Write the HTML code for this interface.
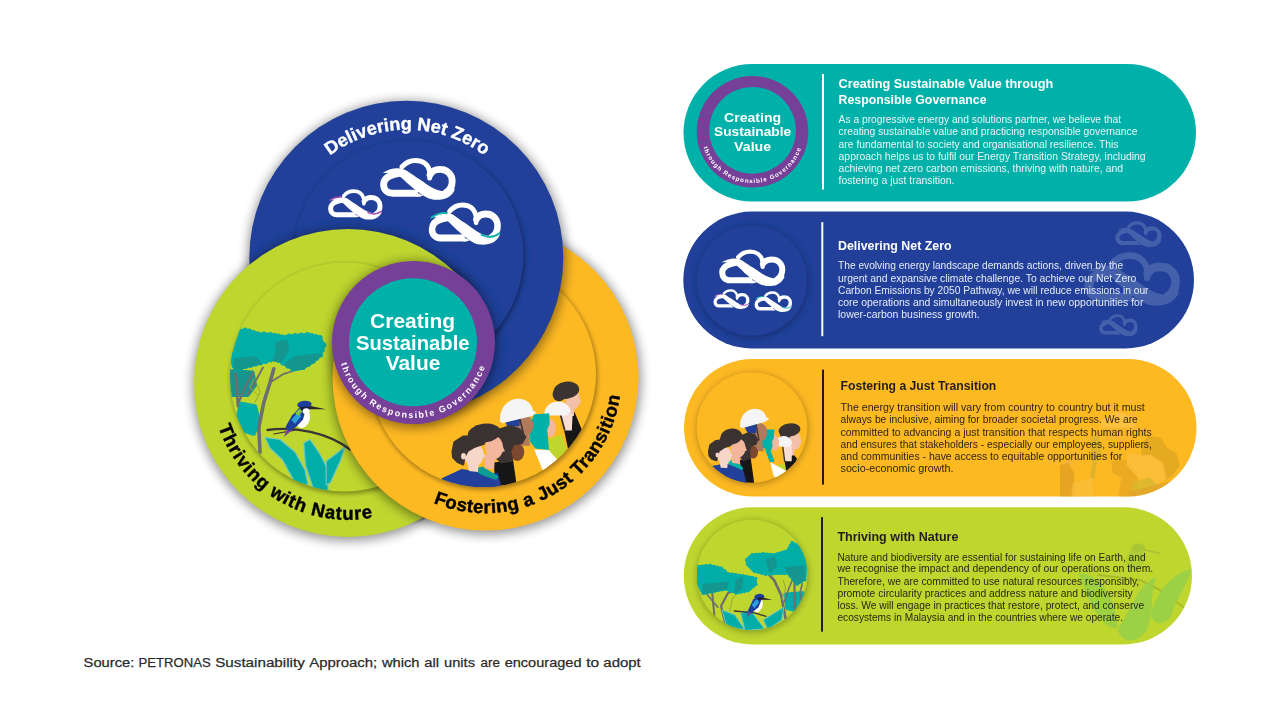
<!DOCTYPE html>
<html><head><meta charset="utf-8"><title>PETRONAS Sustainability Approach</title>
<style>
html,body{margin:0;padding:0;background:#fff;width:1280px;height:720px;overflow:hidden}
svg{display:block}
text{font-family:"Liberation Sans",sans-serif}
.b{font-weight:bold}
</style></head><body>
<svg width="1280" height="720" viewBox="0 0 1280 720">
<defs>
<filter id="bl4" x="-20%" y="-20%" width="140%" height="140%"><feGaussianBlur stdDeviation="5.5"/></filter>
<filter id="bl3" x="-20%" y="-20%" width="140%" height="140%"><feGaussianBlur stdDeviation="3"/></filter>
<filter id="bl2" x="-20%" y="-20%" width="140%" height="140%"><feGaussianBlur stdDeviation="2"/></filter>
<filter id="soft" x="-5%" y="-5%" width="110%" height="110%"><feGaussianBlur stdDeviation="0.7"/></filter>

<g id="cloud" stroke-linejoin="round">
<path d="M28,20.5 C24,21 22,21.5 19,22.3 C11,24.5 5,29 5,35.5 C5,42 9,47 17,47 L50,47" fill="none" stroke="currentColor" stroke-width="9" stroke-linecap="butt"/>
<path d="M29,12.5 C34,6.5 40,4 47,4 C56,4 63,9 65,17 C66,20 66,23 65.5,27" fill="none" stroke="currentColor" stroke-width="6.5" stroke-linecap="round"/>
<path d="M66,22.5 C69,17 74,15.5 80,15.8 C89,16 95,23 95,31 C95,38 92,43 87,46" fill="none" stroke="currentColor" stroke-width="9" stroke-linecap="round"/>
<polygon points="48,46 57,50 52.5,51.5 48,51.5" fill="currentColor"/>
<path d="M4,20 C11,16 18,14 24,14.3 C29,14.5 33,16 36,18 C42,22 46,25 51,28 C58,32.5 64,37.5 71,40.8 C77,43.6 82,44.6 87,44.2 C91,44 94,43 98,40 L98,43 C96,48 91,52 87,53.6 C82,55.5 77,56 71,55.6 C66,55 61,53 56,49.5 C50,45.5 44,41 38.5,36 C33.5,31.5 30,27.5 25.5,24.3 C22,21.5 19,20.8 15,20.6 C12,20.5 8,20.6 4,20 Z" fill="currentColor" stroke="none"/>
</g>
<g id="cloudAcc" fill="none" stroke-linecap="round">
<path d="M4,20.5 C11,16 18,14 25,14.8" stroke-width="2.6"/>
<path d="M73,43 C81,46.5 90,46.5 97.5,41" stroke-width="2.6"/>
</g>

<clipPath id="cB"><circle cx="406.3" cy="257.7" r="157"/></clipPath>
<clipPath id="cG"><circle cx="348" cy="383" r="154"/></clipPath>
<clipPath id="cY"><circle cx="485.5" cy="377.6" r="153"/></clipPath>
<clipPath id="cBi"><circle cx="408.5" cy="255.5" r="115"/></clipPath>
<clipPath id="cGi"><circle cx="344.5" cy="377" r="114.5"/></clipPath>
<clipPath id="cYi"><circle cx="483" cy="374.2" r="113"/></clipPath>
<clipPath id="cG1"><circle cx="348" cy="383" r="156.5"/></clipPath>
<clipPath id="cG2"><circle cx="348" cy="383" r="158.5"/></clipPath>
<clipPath id="cNotYlow"><path clip-rule="evenodd" d="M0,0H1280V720H0Z M360.06,290 A153,153 0 1 0 610.94,290 Z"/></clipPath>
<clipPath id="cLow"><rect x="0" y="290" width="1280" height="430"/></clipPath>
<clipPath id="cLowR"><rect x="413" y="290" width="867" height="430"/></clipPath>
<path id="tpB" d="M287.02,213.92 A128,128 0 0 1 527.58,213.92"/>
<path id="tpG" d="M219.45,336.21 A136.8,136.8 0 0 0 452.79,470.93"/>
<path id="tpY" d="M367.55,445.70 A136.2,136.2 0 0 0 603.45,309.50"/>
<path id="tpP" d="M342.46,316.64 A75.6,75.6 0 1 0 484.54,316.64"/>
</defs>
<defs>
<g id="dB">
<circle cx="406.3" cy="257.7" r="157" fill="#20419A"/>
<g clip-path="url(#cB)">
<circle cx="409.5" cy="257.5" r="115.8" fill="#000" opacity="0.34" filter="url(#bl2)"/>
<circle cx="408.5" cy="255.5" r="115" fill="#20419A"/>
</g>

<g color="#fff" transform="translate(379.8,157.4) scale(0.762)"><use href="#cloud"/></g>
<g color="#fff" transform="translate(327.8,188.9) scale(0.55)"><use href="#cloud"/><use href="#cloudAcc" stroke="#a04bb0"/></g>
<g color="#fff" transform="translate(428.4,201.8) scale(0.728,0.77)"><use href="#cloud"/><use href="#cloudAcc" stroke="#19b5ac"/></g>
<text class="b" font-size="18.2" fill="#fff" stroke="#fff" stroke-width="0.35" text-anchor="middle"><textPath href="#tpB" startOffset="50%" textLength="166" lengthAdjust="spacing">Delivering Net Zero</textPath></text>

</g>
<g id="dG">
<circle cx="348" cy="383" r="154" fill="#BED62F"/>
<g clip-path="url(#cG)">
<circle cx="345.5" cy="379" r="115.3" fill="#000" opacity="0.34" filter="url(#bl2)"/>
<circle cx="344.5" cy="377" r="114.5" fill="#BED62F"/>
</g>

<g clip-path="url(#cGi)" id="nature"><polygon points="230.0,371.2 252.5,372.5 255.0,385.0 247.5,395.0 232.5,395.0" fill="#12968f" stroke="#12968f" stroke-width="4" stroke-linejoin="round"/>
<polygon points="241.2,403.8 255.0,406.2 258.8,420.0 253.8,433.8 242.5,430.0 237.5,417.5" fill="#00ADA7" stroke="#00ADA7" stroke-width="4" stroke-linejoin="round"/>
<polyline points="260.0,452.5 258.8,427.5 263.8,402.5 270.0,382.5 273.8,368.8" fill="none" stroke="#6d6e70" stroke-width="3.6" stroke-linecap="round" stroke-linejoin="round" />
<polyline points="270.0,382.5 283.8,373.8 297.5,369.5" fill="none" stroke="#6d6e70" stroke-width="1.8" stroke-linecap="round" stroke-linejoin="round" />
<polyline points="238.0,406.2 236.5,382.5 235.0,370.0" fill="none" stroke="#6d6e70" stroke-width="2.8" stroke-linecap="round" stroke-linejoin="round" />
<polyline points="238.0,403.8 246.2,385.0 253.0,373.0" fill="none" stroke="#6d6e70" stroke-width="2.2" stroke-linecap="round" stroke-linejoin="round" />
<polyline points="247.5,395.0 257.5,377.5 263.0,367.5" fill="none" stroke="#6d6e70" stroke-width="1.8" stroke-linecap="round" stroke-linejoin="round" />
<polyline points="257.5,395.0 250.0,387.5 253.8,378.8" fill="none" stroke="#93a83a" stroke-width="1" stroke-linecap="round" stroke-linejoin="round" />
<polyline points="255.0,402.5 260.0,392.5 257.5,385.0" fill="none" stroke="#93a83a" stroke-width="1" stroke-linecap="round" stroke-linejoin="round" />
<polygon points="231.2,338.8 235.0,332.5 245.0,330.0 257.5,333.8 270.0,334.5 282.5,337.0 295.0,335.5 307.5,334.5 320.0,337.5 323.8,345.0 320.5,355.0 313.0,361.2 303.0,367.5 293.0,369.0 283.0,363.0 275.5,358.0 265.5,361.5 255.5,364.0 245.5,366.5 235.5,370.0 231.2,357.5" fill="#00ADA7" stroke="#00ADA7" stroke-width="3" stroke-linejoin="round"/>
<circle cx="231.2" cy="338.8" r="2.6" fill="#00ADA7"/><circle cx="235.0" cy="332.5" r="2.6" fill="#00ADA7"/><circle cx="240.0" cy="331.2" r="2.6" fill="#00ADA7"/><circle cx="245.0" cy="330.0" r="2.6" fill="#00ADA7"/><circle cx="249.2" cy="331.2" r="2.6" fill="#00ADA7"/><circle cx="253.3" cy="332.5" r="2.6" fill="#00ADA7"/><circle cx="257.5" cy="333.8" r="2.6" fill="#00ADA7"/><circle cx="263.8" cy="334.1" r="2.6" fill="#00ADA7"/><circle cx="270.0" cy="334.5" r="2.6" fill="#00ADA7"/><circle cx="274.2" cy="335.3" r="2.6" fill="#00ADA7"/><circle cx="278.3" cy="336.2" r="2.6" fill="#00ADA7"/><circle cx="282.5" cy="337.0" r="2.6" fill="#00ADA7"/><circle cx="288.8" cy="336.2" r="2.6" fill="#00ADA7"/><circle cx="295.0" cy="335.5" r="2.6" fill="#00ADA7"/><circle cx="301.2" cy="335.0" r="2.6" fill="#00ADA7"/><circle cx="307.5" cy="334.5" r="2.6" fill="#00ADA7"/><circle cx="311.7" cy="335.5" r="2.6" fill="#00ADA7"/><circle cx="315.8" cy="336.5" r="2.6" fill="#00ADA7"/><circle cx="320.0" cy="337.5" r="2.6" fill="#00ADA7"/><circle cx="323.8" cy="345.0" r="2.6" fill="#00ADA7"/><circle cx="322.1" cy="350.0" r="2.6" fill="#00ADA7"/><circle cx="320.5" cy="355.0" r="2.6" fill="#00ADA7"/><circle cx="316.8" cy="358.1" r="2.6" fill="#00ADA7"/><circle cx="313.0" cy="361.2" r="2.6" fill="#00ADA7"/><circle cx="308.0" cy="364.4" r="2.6" fill="#00ADA7"/><circle cx="303.0" cy="367.5" r="2.6" fill="#00ADA7"/><circle cx="298.0" cy="368.2" r="2.6" fill="#00ADA7"/><circle cx="293.0" cy="369.0" r="2.6" fill="#00ADA7"/><circle cx="288.0" cy="366.0" r="2.6" fill="#00ADA7"/><circle cx="283.0" cy="363.0" r="2.6" fill="#00ADA7"/><circle cx="279.2" cy="360.5" r="2.6" fill="#00ADA7"/><circle cx="275.5" cy="358.0" r="2.6" fill="#00ADA7"/><circle cx="270.5" cy="359.8" r="2.6" fill="#00ADA7"/><circle cx="265.5" cy="361.5" r="2.6" fill="#00ADA7"/><circle cx="260.5" cy="362.8" r="2.6" fill="#00ADA7"/><circle cx="255.5" cy="364.0" r="2.6" fill="#00ADA7"/><circle cx="250.5" cy="365.2" r="2.6" fill="#00ADA7"/><circle cx="245.5" cy="366.5" r="2.6" fill="#00ADA7"/><circle cx="240.5" cy="368.2" r="2.6" fill="#00ADA7"/><circle cx="235.5" cy="370.0" r="2.6" fill="#00ADA7"/><circle cx="234.1" cy="365.8" r="2.6" fill="#00ADA7"/><circle cx="232.7" cy="361.7" r="2.6" fill="#00ADA7"/><circle cx="231.2" cy="357.5" r="2.6" fill="#00ADA7"/><circle cx="231.2" cy="352.8" r="2.6" fill="#00ADA7"/><circle cx="231.2" cy="348.1" r="2.6" fill="#00ADA7"/><circle cx="231.2" cy="343.4" r="2.6" fill="#00ADA7"/>
<polygon points="276.2,343.8 286.2,341.2 287.5,350.0 281.2,361.2 273.8,360.0 277.5,351.2" fill="#12968f" stroke="#12968f" stroke-width="3" stroke-linejoin="round"/>
<polygon points="295.0,357.5 320.0,355.0 313.0,362.0 303.0,368.0 293.0,369.0 285.5,364.5" fill="#12968f" stroke="#12968f" stroke-width="3" stroke-linejoin="round"/>
<polygon points="235.0,360.0 255.0,357.5 260.0,363.0 245.0,367.0 235.5,370.0" fill="#12968f" stroke="#12968f" stroke-width="3" stroke-linejoin="round"/>
<polygon points="265.0,437.5 280.0,439.5 295.0,452.0 305.0,470.0 308.0,485.0 295.0,482.5 282.5,460.0 270.0,448.0" fill="#00ADA7" stroke="#6fc7bf" stroke-width="1.2" stroke-linejoin="round"/>
<polygon points="303.8,443.0 310.0,439.5 320.5,455.0 328.0,470.0 328.0,492.5 313.0,487.5 305.5,465.5" fill="#00ADA7" stroke="#6fc7bf" stroke-width="1.2" stroke-linejoin="round"/>
<polygon points="326.2,461.2 345.0,447.0 340.5,460.5 330.5,482.5 326.2,485.0" fill="#00ADA7" stroke="#6fc7bf" stroke-width="1.2" stroke-linejoin="round"/>
<path d="M267.5,430.0 C295.0,426.2 327.5,432.5 350.0,449.5" fill="none" stroke="#3a3436" stroke-width="2.4" stroke-linecap="round"/>
<polyline points="273.8,434.0 295.0,430.2" fill="none" stroke="#3a3436" stroke-width="1.2" stroke-linecap="round" stroke-linejoin="round" />
<polygon points="283.8,437.0 288.0,427.0 292.5,430.0" fill="#7a3fa0" />
<ellipse cx="303.0" cy="419.0" rx="6.6" ry="9.4" fill="#ffffff" transform="rotate(20 303.0 419.0)"/>
<polygon points="285.5,427.0 292.0,415.5 299.5,407.5 306.2,408.0 303.0,419.5 295.5,427.5 288.5,431.0" fill="#1f3c9c" />
<polygon points="291.2,420.0 298.8,411.2 301.2,416.2 295.0,423.8" fill="#2aa0dc" />
<polygon points="295.0,413.0 300.5,408.0 302.5,411.5 298.0,416.0" fill="#7fc241" />
<ellipse cx="304.5" cy="404.5" rx="7.2" ry="3.8" fill="#1f3c9c" transform="rotate(-5 304.5 404.5)"/>
<polygon points="299.5,407.0 310.5,406.5 310.0,409.5 301.2,410.5" fill="#1b1f3a" />
<polygon points="309.5,405.8 326.0,409.2 310.0,409.2" fill="#2b2b2b" />
<ellipse cx="306.2" cy="411.2" rx="3.5" ry="3.0" fill="#ffffff"/></g>
<text class="b" font-size="18.6" fill="#000" stroke="#000" stroke-width="0.4" text-anchor="middle"><textPath href="#tpG" startOffset="49.7%" textLength="195" lengthAdjust="spacing">Thriving with Nature</textPath></text>

</g>
<g id="dY">
<circle cx="485.5" cy="377.6" r="153" fill="#FDB924"/>
<g clip-path="url(#cY)">
<circle cx="484" cy="376.2" r="113.8" fill="#000" opacity="0.34" filter="url(#bl2)"/>
<circle cx="483" cy="374.2" r="113" fill="#FDB924"/>
</g>

<g clip-path="url(#cYi)" id="people"><polygon points="565.5,416.0 574.5,411.9 582.6,431.4 568.5,451.2 564.2,430.5" fill="#141214" />
<polygon points="566.4,405.2 574.5,405.2 573.9,416.0 567.3,416.0" fill="#f2c0a8" />
<ellipse cx="572.7" cy="399.8" rx="7.4" ry="9.8" fill="#f2c0a8"/>
<polygon points="579.0,397.1 581.5,402.1 578.6,403.2" fill="#f2c0a8" />
<ellipse cx="566.4" cy="390.2" rx="12.8" ry="8.6" fill="#3b3331" transform="rotate(-8 566.4 390.2)"/>
<ellipse cx="559.1" cy="394.4" rx="6.5" ry="7.0" fill="#3b3331"/>
<polygon points="560.6,414.2 572.7,413.3 571.8,430.5 564.5,430.5" fill="#f8ddd2" />
<polyline points="560.6,415.1 564.5,429.6" fill="none" stroke="#3b3331" stroke-width="1.8" stroke-linecap="round" stroke-linejoin="round" />
<path d="M544.3,413.3 C545.6,398.9 568.2,397.1 570.9,411.9 L566.4,415.5 L546.5,415.5 Z" fill="#f5f5f5"/>
<polygon points="547.9,439.5 561.3,434.6 566.7,449.4 559.1,460.3 549.7,452.1" fill="#BED62F" />
<ellipse cx="550.5" cy="428.1" rx="5.2" ry="9.2" fill="#f2b79d"/>
<polygon points="528.8,429.9 534.2,415.1 548.7,413.9 549.0,424.2 546.5,429.6 547.2,435.3 548.3,449.4 535.7,448.0 530.3,440.8" fill="#00B1A9" stroke="#00B1A9" stroke-width="1.2" stroke-linejoin="round"/>
<polygon points="534.2,449.4 548.7,450.1 557.7,460.3 543.2,471.4" fill="#ffffff" />
<polygon points="517.6,431.4 528.4,435.0 530.3,445.8 519.4,445.8" fill="#b17a5b" />
<ellipse cx="524.8" cy="425.6" rx="8.8" ry="10.0" fill="#b17a5b"/>
<polygon points="503.5,419.1 520.3,417.3 519.4,426.3 507.7,426.9" fill="#20419A" />
<polyline points="519.4,417.3 523.4,433.5" fill="none" stroke="#3b3331" stroke-width="1.6" stroke-linecap="round" stroke-linejoin="round" />
<path d="M499.9,420.9 C499.2,394.4 530.3,392.6 533.0,410.6 L536.6,412.4 L532.1,416.0 L502.3,423.2 Z" fill="#f5f5f5"/>
<polygon points="493.4,462.4 513.1,460.3 516.7,485.5 496.0,485.5" fill="#141214" />
<ellipse cx="517.3" cy="452.1" rx="7.0" ry="8.8" fill="#7b4a2e"/>
<polygon points="494.5,439.0 499.9,429.9 510.4,426.3 519.4,429.9 524.8,437.1 521.6,442.6 512.6,444.4 509.9,451.6 511.7,460.3 501.7,462.1 494.5,455.2 492.7,446.2" fill="#3b3331" stroke="#3b3331" stroke-width="3" stroke-linejoin="round"/>
<polygon points="473.4,473.8 497.8,472.9 501.4,487.3 474.3,487.3" fill="#2a3f9e" />
<polygon points="473.4,468.9 482.4,466.6 498.7,476.5 496.3,480.1 476.1,473.2" fill="#0d9b96" />
<polygon points="484.2,454.8 495.1,454.8 494.2,469.3 485.1,468.4" fill="#f2b79d" />
<ellipse cx="494.2" cy="447.6" rx="9.0" ry="11.6" fill="#f2b79d"/>
<polygon points="502.3,445.8 505.0,451.2 501.9,452.1" fill="#f2b79d" />
<ellipse cx="484.2" cy="433.2" rx="16.5" ry="9.5" fill="#3b3331" transform="rotate(-8 484.2 433.2)"/>
<ellipse cx="476.1" cy="438.6" rx="8.0" ry="8.0" fill="#3b3331"/>
<polygon points="441.8,478.3 461.7,468.9 475.2,471.1 500.5,486.4 441.8,489.1" fill="#20419A" />
<polygon points="467.1,462.1 478.8,462.1 477.9,472.0 468.9,471.1" fill="#f6d6c9" />
<ellipse cx="473.9" cy="454.8" rx="9.8" ry="11.6" fill="#f6d6c9"/>
<polygon points="482.6,451.2 485.1,456.6 482.2,457.7" fill="#f6d6c9" />
<polygon points="453.0,451.2 454.8,442.6 463.5,437.1 474.3,436.8 482.4,439.7 483.7,443.3 474.7,446.2 467.4,450.5 463.8,457.0 462.9,463.9 457.5,461.3 453.4,457.0" fill="#3b3331" stroke="#3b3331" stroke-width="3" stroke-linejoin="round"/>
<ellipse cx="463.5" cy="456.3" rx="2.4" ry="3.2" fill="#f6d6c9"/></g>
<text class="b" font-size="18.6" fill="#000" stroke="#000" stroke-width="0.4" text-anchor="middle"><textPath href="#tpY" startOffset="49.9%" textLength="248" lengthAdjust="spacing">Fostering a Just Transition</textPath></text>

</g>
</defs>
<g id="venn" filter="url(#soft)">
<circle cx="486.0" cy="379.6" r="155" fill="#000" opacity="0.42" filter="url(#bl4)"/>
<use href="#dY"/>
<circle cx="406.8" cy="259.7" r="159" fill="#000" opacity="0.42" filter="url(#bl4)"/>
<use href="#dB"/>
<g clip-path="url(#cNotYlow)"><circle cx="348.5" cy="385" r="156" fill="#000" opacity="0.42" filter="url(#bl4)"/></g>
<use href="#dG"/>
<g clip-path="url(#cG1)"><g clip-path="url(#cLow)"><g opacity="0.999"><circle cx="486.0" cy="379.6" r="155" fill="#000" opacity="0.42" filter="url(#bl4)"/><use href="#dY"/></g></g></g>
<g clip-path="url(#cG1)"><g clip-path="url(#cLowR)"><circle cx="406.8" cy="259.7" r="159" fill="#000" opacity="0.42" filter="url(#bl4)"/></g></g>
<g clip-path="url(#cG2)"><g clip-path="url(#cLowR)"><g opacity="0.999"><use href="#dB"/></g></g></g>
<circle cx="414.0" cy="344.5" r="83.5" fill="#000" opacity="0.4" filter="url(#bl4)"/>
<circle cx="413.5" cy="342.5" r="81.5" fill="#763F98"/>
<circle cx="413" cy="342.3" r="64" fill="#00B1A9"/>
<g class="b" fill="#fff" font-size="19.5" text-anchor="middle">
<text x="412.6" y="328.4" textLength="85" lengthAdjust="spacingAndGlyphs">Creating</text>
<text x="412.8" y="349.7" textLength="113.6" lengthAdjust="spacingAndGlyphs">Sustainable</text>
<text x="413" y="370.3" textLength="54.7" lengthAdjust="spacingAndGlyphs">Value</text>
</g>
<text class="b" font-size="9" fill="#fff" text-anchor="middle"><textPath href="#tpP" startOffset="49.4%" textLength="191" lengthAdjust="spacing">through Responsible Governance</textPath></text>

</g>
<g id="pills" filter="url(#soft)">
<clipPath id="cp0"><rect x="683.5" y="64" width="512.5" height="137.5" rx="68.75"/></clipPath>
<rect x="683.5" y="64" width="512.5" height="137.5" rx="68.75" fill="#00B1A9"/>
<g clip-path="url(#cp0)" id="wm0"></g>
<clipPath id="cp1"><rect x="683.3" y="211.6" width="510.7" height="136.8" rx="68.40"/></clipPath>
<rect x="683.3" y="211.6" width="510.7" height="136.8" rx="68.40" fill="#20419A"/>
<g clip-path="url(#cp1)" id="wm1"><g color="#fff" opacity="0.17"><g transform="translate(1115,221) scale(0.468)"><use href="#cloud"/></g><g transform="translate(1084,251.6) scale(0.964,0.97)"><use href="#cloud"/></g><g transform="translate(1099,314) scale(0.388,0.40)"><use href="#cloud"/></g></g></g>
<clipPath id="cp2"><rect x="684" y="359" width="512.5" height="137.6" rx="68.80"/></clipPath>
<rect x="684" y="359" width="512.5" height="137.6" rx="68.80" fill="#FDB924"/>
<g clip-path="url(#cp2)" id="wm2"><g opacity="0.62"><polygon points="1060.0,465.3 1068.3,462.5 1073.9,472.2 1075.3,500.0 1060.0,500.0" fill="#c98f1c" opacity="0.75"/><polygon points="1062.8,445.8 1075.3,444.4 1078.1,462.5 1076.7,477.8 1068.3,462.5 1061.4,458.3" fill="#f7b63a" opacity="0.6"/><polygon points="1072.5,483.3 1091.9,477.8 1093.3,500.0 1071.1,500.0" fill="#f9c34e" opacity="0.7"/><polygon points="1089.9,436.8 1098.9,435.8 1101.7,452.8 1096.4,465.3 1094.0,479.2 1089.9,477.8 1092.6,459.7" fill="#b9b03a" opacity="0.75"/><path d="M1100.3,427.8 C1100.3,408.3 1133.6,406.9 1135.7,427.8 Z" fill="#fdd679" opacity="0.55"/><polygon points="1101.7,427.8 1135.0,427.8 1132.2,441.7 1105.8,440.3" fill="#f3b23a" opacity="0.45"/><polygon points="1111.4,461.1 1126.7,459.7 1137.8,472.2 1137.8,500.0 1118.3,500.0 1121.1,477.8 1112.1,472.2" fill="#d79e22" opacity="0.8"/><polygon points="1141.9,445.8 1148.9,437.5 1160.0,438.9 1165.6,448.6 1175.3,454.2 1178.1,465.3 1171.1,475.0 1165.6,477.8 1162.8,462.5 1150.3,454.2 1143.3,455.6" fill="#d29c22" opacity="0.85" stroke="#d29c22" stroke-width="3" stroke-linejoin="round"/><polygon points="1126.7,452.8 1143.3,455.6 1150.3,454.2 1162.8,462.5 1166.9,477.8 1157.2,484.7 1137.8,477.8 1126.7,465.3" fill="#fbc04a" opacity="0.85"/><polygon points="1132.2,483.3 1148.9,477.1 1157.2,484.7 1143.3,491.7 1132.2,490.3" fill="#c4b63a" opacity="0.85"/><polygon points="1129.4,491.7 1157.2,484.7 1171.1,480.6 1157.2,500.0 1129.4,500.0" fill="#cf9a30" opacity="0.85"/></g></g>
<clipPath id="cp3"><rect x="683.8" y="507.2" width="508.2" height="137.2" rx="68.60"/></clipPath>
<rect x="683.8" y="507.2" width="508.2" height="137.2" rx="68.60" fill="#BED62F"/>
<g clip-path="url(#cp3)" id="wm3"><g opacity="0.8"><polyline points="1098.3,575.0 1140.0,580.0 1160.0,590.0 1183.3,607.0" fill="none" stroke="#a3b52c" stroke-width="2" stroke-linecap="round" stroke-linejoin="round"/><ellipse cx="1135.8" cy="558.3" rx="9" ry="13" fill="#a6c83a" opacity="0.8" transform="rotate(25 1135.8 558.3)"/><ellipse cx="1138.3" cy="547.5" rx="7" ry="4" fill="#a3c23a" opacity="0.9"/><polyline points="1143.3,549.7 1160.0,553.3" fill="none" stroke="#a8b43a" stroke-width="1.2"/><path d="M1078.3,573.0 C1098.3,573.3 1115.0,593.3 1117.5,628.3 C1101.7,630.0 1090.0,605.0 1078.3,573.0 Z" fill="#8fce4c" opacity="0.85"/><path d="M1155.8,577.0 C1138.3,585.0 1133.3,605.0 1117.5,630.0 C1123.3,645.0 1138.3,643.3 1146.7,630.0 C1153.3,616.7 1150.0,596.7 1155.8,577.0 Z" fill="#8fce4c" opacity="0.9"/><path d="M1191.7,568.7 C1173.3,573.3 1158.3,588.3 1150.8,613.3 C1153.3,626.7 1163.3,625.0 1170.8,616.7 C1176.7,596.7 1186.7,586.7 1191.7,568.7 Z" fill="#8fce4c" opacity="0.9"/></g></g>
<circle cx="752.5" cy="131.7" r="55.8" fill="#763F98"/><circle cx="752.6" cy="130.4" r="43.4" fill="#00B1A9"/>
<path id="tpP2" d="M704.01,113.85 A51.6,51.6 0 1 0 800.99,113.85" fill="none"/>
<g class="b" fill="#fff" font-size="13.5" text-anchor="middle">
<text x="752.6" y="121.5" textLength="57" lengthAdjust="spacingAndGlyphs">Creating</text>
<text x="752.6" y="136.3" textLength="77" lengthAdjust="spacingAndGlyphs">Sustainable</text>
<text x="752.6" y="151" textLength="37" lengthAdjust="spacingAndGlyphs">Value</text>
</g>
<text class="b" font-size="6.2" fill="#fff" text-anchor="middle"><textPath href="#tpP2" startOffset="49.6%" textLength="128" lengthAdjust="spacing">through Responsible Governance</textPath></text>

<clipPath id="ci0"><circle cx="752" cy="280.5" r="55.3"/></clipPath>
<circle cx="752.5" cy="282.0" r="56" fill="#000" opacity="0.27" filter="url(#bl3)"/>
<circle cx="752" cy="280.5" r="55.3" fill="#20419A"/>
<g clip-path="url(#ci0)" id="ill0"></g>
<clipPath id="ci1"><circle cx="752" cy="427.5" r="55.3"/></clipPath>
<circle cx="752.5" cy="429.0" r="56" fill="#000" opacity="0.27" filter="url(#bl3)"/>
<circle cx="752" cy="427.5" r="55.3" fill="#FDB924"/>
<g clip-path="url(#ci1)" id="ill1"><polygon points="784.5,454.7 792.0,452.2 797.0,458.8 794.0,468.8 785.3,471.0" fill="#141214" />
<polygon points="787.8,446.3 794.5,446.3 794.0,455.5 788.7,455.5" fill="#f2c0a8" />
<ellipse cx="794.5" cy="440.8" rx="6.6" ry="9.0" fill="#f2c0a8"/>
<polygon points="800.0,439.7 802.0,443.0 799.7,443.8" fill="#f2c0a8" />
<ellipse cx="789.5" cy="430.0" rx="11.0" ry="6.6" fill="#3b3331" transform="rotate(-8 789.5 430.0)"/>
<ellipse cx="785.3" cy="433.8" rx="5.5" ry="5.5" fill="#3b3331"/>
<polygon points="783.7,446.3 792.0,446.3 791.7,461.3 784.0,461.3" fill="#f8ddd2" />
<polyline points="782.8,447.2 784.7,461.3" fill="none" stroke="#3b3331" stroke-width="1.4" stroke-linecap="round" stroke-linejoin="round" />
<path d="M775.3,443.8 C776.2,433.8 790.3,433.0 792.3,443.8 L789.5,447.2 L777.0,446.3 Z" fill="#f5f5f5"/>
<polygon points="778.3,463.8 785.3,464.7 786.2,472.2 782.0,476.3 777.8,471.3" fill="#BED62F" />
<ellipse cx="774.8" cy="443.0" rx="4.3" ry="7.6" fill="#f2b79d"/>
<polygon points="759.5,440.0 765.3,430.0 774.0,430.0 773.3,438.0 771.7,441.3 772.0,446.3 770.3,451.3 774.0,461.3 770.0,461.7 765.3,448.3 760.3,446.3" fill="#00B1A9" stroke="#00B1A9" stroke-width="1" stroke-linejoin="round"/>
<polygon points="770.3,462.2 786.2,471.0 776.2,479.3 773.3,474.7" fill="#ffffff" />
<polygon points="754.0,438.0 762.0,441.3 763.7,451.3 755.3,451.3" fill="#b17a5b" />
<ellipse cx="760.0" cy="432.2" rx="7.2" ry="9.2" fill="#b17a5b"/>
<polygon points="743.7,425.5 757.0,423.8 756.2,433.3 747.8,433.3" fill="#20419A" />
<polyline points="756.3,425.5 759.0,440.0" fill="none" stroke="#3b3331" stroke-width="1.3" stroke-linecap="round" stroke-linejoin="round" />
<path d="M740.0,426.7 C739.5,405.5 763.7,403.8 766.2,417.2 L769.5,418.5 L765.3,421.7 L742.0,428.3 Z" fill="#f5f5f5"/>
<polygon points="740.0,460.0 750.7,458.0 754.3,483.8 741.7,483.8" fill="#141214" />
<ellipse cx="753.0" cy="452.2" rx="5.0" ry="6.4" fill="#7b4a2e"/>
<polygon points="739.8,441.3 742.3,435.8 748.7,433.3 754.5,435.0 757.3,440.0 755.7,444.0 750.7,445.7 749.0,451.3 749.8,458.0 743.2,460.2 739.8,454.7 739.0,448.0" fill="#3b3331" stroke="#3b3331" stroke-width="2" stroke-linejoin="round"/>
<polygon points="723.7,466.3 742.0,465.5 747.0,484.7 725.3,484.7" fill="#20419A" />
<polygon points="727.5,461.7 733.7,459.3 743.3,468.0 741.3,471.0 729.5,465.0" fill="#00B1A9" />
<polygon points="731.2,454.7 739.5,454.7 739.0,463.8 732.0,463.0" fill="#f2b79d" />
<ellipse cx="738.2" cy="448.0" rx="7.4" ry="9.6" fill="#f2b79d"/>
<polygon points="745.0,446.3 747.0,450.5 744.7,451.0" fill="#f2b79d" />
<ellipse cx="731.2" cy="436.7" rx="11.0" ry="8.0" fill="#3b3331" transform="rotate(-10 731.2 436.7)"/>
<ellipse cx="725.3" cy="441.3" rx="6.0" ry="6.0" fill="#3b3331"/>
<polygon points="710.3,466.3 726.2,463.3 742.8,470.5 747.0,484.7 708.7,484.7" fill="#20419A" />
<polygon points="719.5,461.3 727.8,461.3 727.3,468.0 720.7,467.7" fill="#f6d6c9" />
<ellipse cx="724.5" cy="455.5" rx="7.0" ry="8.8" fill="#f6d6c9"/>
<polygon points="730.7,452.2 732.7,456.0 730.3,456.7" fill="#f6d6c9" />
<polygon points="709.0,451.3 710.3,445.0 715.7,441.0 723.0,440.3 729.3,442.3 730.7,445.0 724.0,447.3 719.0,450.7 717.0,455.5 716.5,460.2 712.0,458.8 709.3,455.5" fill="#3b3331" stroke="#3b3331" stroke-width="2" stroke-linejoin="round"/>
<ellipse cx="717.3" cy="455.0" rx="1.8" ry="2.4" fill="#f6d6c9"/></g>
<clipPath id="ci2"><circle cx="752" cy="575" r="55.3"/></clipPath>
<circle cx="752.5" cy="576.5" r="56" fill="#000" opacity="0.27" filter="url(#bl3)"/>
<circle cx="752" cy="575" r="55.3" fill="#BED62F"/>
<g clip-path="url(#ci2)" id="ill2"><polygon points="785.6,593.9 803.3,592.8 805.6,606.1 796.7,611.0 786.7,608.3" fill="#00ADA7" stroke="#00ADA7" stroke-width="3" stroke-linejoin="round"/>
<polyline points="786.0,620.6 781.1,595.0 774.4,580.6 767.8,573.2" fill="none" stroke="#6d6e70" stroke-width="2.6" stroke-linecap="round" stroke-linejoin="round" />
<polyline points="794.9,609.4 794.4,583.9 799.3,572.8" fill="none" stroke="#6d6e70" stroke-width="2.2" stroke-linecap="round" stroke-linejoin="round" />
<polyline points="784.4,601.7 788.9,588.3 792.7,579.4" fill="none" stroke="#6d6e70" stroke-width="1.6" stroke-linecap="round" stroke-linejoin="round" />
<polyline points="802.2,583.9 800.0,592.8 801.1,599.4" fill="none" stroke="#6d6e70" stroke-width="1.6" stroke-linecap="round" stroke-linejoin="round" />
<polyline points="724.9,622.8 721.1,606.1 727.8,593.2 739.3,588.3" fill="none" stroke="#6d6e70" stroke-width="2.2" stroke-linecap="round" stroke-linejoin="round" />
<polyline points="714.4,616.1 712.2,592.8" fill="none" stroke="#6d6e70" stroke-width="2" stroke-linecap="round" stroke-linejoin="round" />
<polyline points="717.8,607.2 705.6,592.8" fill="none" stroke="#6d6e70" stroke-width="1.6" stroke-linecap="round" stroke-linejoin="round" />
<polyline points="730.0,610.6 732.2,599.4 736.7,592.8" fill="none" stroke="#93a83a" stroke-width="1" stroke-linecap="round" stroke-linejoin="round" />
<polyline points="782.2,599.4 785.6,588.3 783.3,580.6" fill="none" stroke="#93a83a" stroke-width="1" stroke-linecap="round" stroke-linejoin="round" />
<polygon points="698.4,566.6 710.0,565.7 721.1,568.3 728.2,573.9 743.3,576.1 755.6,578.6 755.6,584.3 747.8,590.6 736.7,592.8 725.6,588.8 714.4,591.0 703.3,593.2 698.4,584.3" fill="#00ADA7" stroke="#00ADA7" stroke-width="2.5" stroke-linejoin="round"/>
<circle cx="698.4" cy="566.6" r="1.9" fill="#00ADA7"/><circle cx="702.3" cy="566.3" r="1.9" fill="#00ADA7"/><circle cx="706.1" cy="566.0" r="1.9" fill="#00ADA7"/><circle cx="710.0" cy="565.7" r="1.9" fill="#00ADA7"/><circle cx="713.7" cy="566.6" r="1.9" fill="#00ADA7"/><circle cx="717.4" cy="567.4" r="1.9" fill="#00ADA7"/><circle cx="721.1" cy="568.3" r="1.9" fill="#00ADA7"/><circle cx="724.7" cy="571.1" r="1.9" fill="#00ADA7"/><circle cx="728.2" cy="573.9" r="1.9" fill="#00ADA7"/><circle cx="732.0" cy="574.4" r="1.9" fill="#00ADA7"/><circle cx="735.8" cy="575.0" r="1.9" fill="#00ADA7"/><circle cx="739.6" cy="575.6" r="1.9" fill="#00ADA7"/><circle cx="743.3" cy="576.1" r="1.9" fill="#00ADA7"/><circle cx="746.4" cy="576.7" r="1.9" fill="#00ADA7"/><circle cx="749.4" cy="577.3" r="1.9" fill="#00ADA7"/><circle cx="752.5" cy="577.9" r="1.9" fill="#00ADA7"/><circle cx="755.6" cy="578.6" r="1.9" fill="#00ADA7"/><circle cx="755.6" cy="584.3" r="1.9" fill="#00ADA7"/><circle cx="753.0" cy="586.4" r="1.9" fill="#00ADA7"/><circle cx="750.4" cy="588.5" r="1.9" fill="#00ADA7"/><circle cx="747.8" cy="590.6" r="1.9" fill="#00ADA7"/><circle cx="744.1" cy="591.3" r="1.9" fill="#00ADA7"/><circle cx="740.4" cy="592.0" r="1.9" fill="#00ADA7"/><circle cx="736.7" cy="592.8" r="1.9" fill="#00ADA7"/><circle cx="733.0" cy="591.4" r="1.9" fill="#00ADA7"/><circle cx="729.3" cy="590.1" r="1.9" fill="#00ADA7"/><circle cx="725.6" cy="588.8" r="1.9" fill="#00ADA7"/><circle cx="721.9" cy="589.5" r="1.9" fill="#00ADA7"/><circle cx="718.1" cy="590.3" r="1.9" fill="#00ADA7"/><circle cx="714.4" cy="591.0" r="1.9" fill="#00ADA7"/><circle cx="710.7" cy="591.7" r="1.9" fill="#00ADA7"/><circle cx="707.0" cy="592.5" r="1.9" fill="#00ADA7"/><circle cx="703.3" cy="593.2" r="1.9" fill="#00ADA7"/><circle cx="701.7" cy="590.3" r="1.9" fill="#00ADA7"/><circle cx="700.1" cy="587.3" r="1.9" fill="#00ADA7"/><circle cx="698.4" cy="584.3" r="1.9" fill="#00ADA7"/><circle cx="698.4" cy="580.8" r="1.9" fill="#00ADA7"/><circle cx="698.4" cy="577.2" r="1.9" fill="#00ADA7"/><circle cx="698.4" cy="573.7" r="1.9" fill="#00ADA7"/><circle cx="698.4" cy="570.1" r="1.9" fill="#00ADA7"/>
<polygon points="736.7,580.6 742.2,577.7 741.1,588.3 735.6,592.3" fill="#12968f" stroke="#12968f" stroke-width="2" stroke-linejoin="round"/>
<polygon points="703.3,585.0 727.8,582.8 725.6,588.8 714.4,591.0 703.3,593.2" fill="#12968f" stroke="#12968f" stroke-width="2" stroke-linejoin="round"/>
<polygon points="746.7,559.9 752.2,555.0 763.3,553.9 774.4,555.0 787.8,551.0 792.2,542.8 801.6,548.3 806.0,561.7 804.7,579.4 797.1,583.9 788.2,573.2 776.7,573.2 765.6,574.1 754.4,571.0 747.8,564.3" fill="#00ADA7" stroke="#00ADA7" stroke-width="2.5" stroke-linejoin="round"/>
<circle cx="746.7" cy="559.9" r="1.9" fill="#00ADA7"/><circle cx="749.4" cy="557.4" r="1.9" fill="#00ADA7"/><circle cx="752.2" cy="555.0" r="1.9" fill="#00ADA7"/><circle cx="755.9" cy="554.6" r="1.9" fill="#00ADA7"/><circle cx="759.6" cy="554.3" r="1.9" fill="#00ADA7"/><circle cx="763.3" cy="553.9" r="1.9" fill="#00ADA7"/><circle cx="767.0" cy="554.3" r="1.9" fill="#00ADA7"/><circle cx="770.7" cy="554.6" r="1.9" fill="#00ADA7"/><circle cx="774.4" cy="555.0" r="1.9" fill="#00ADA7"/><circle cx="777.8" cy="554.0" r="1.9" fill="#00ADA7"/><circle cx="781.1" cy="553.0" r="1.9" fill="#00ADA7"/><circle cx="784.4" cy="552.0" r="1.9" fill="#00ADA7"/><circle cx="787.8" cy="551.0" r="1.9" fill="#00ADA7"/><circle cx="789.3" cy="548.3" r="1.9" fill="#00ADA7"/><circle cx="790.7" cy="545.5" r="1.9" fill="#00ADA7"/><circle cx="792.2" cy="542.8" r="1.9" fill="#00ADA7"/><circle cx="795.3" cy="544.6" r="1.9" fill="#00ADA7"/><circle cx="798.4" cy="546.5" r="1.9" fill="#00ADA7"/><circle cx="801.6" cy="548.3" r="1.9" fill="#00ADA7"/><circle cx="802.7" cy="551.7" r="1.9" fill="#00ADA7"/><circle cx="803.8" cy="555.0" r="1.9" fill="#00ADA7"/><circle cx="804.9" cy="558.3" r="1.9" fill="#00ADA7"/><circle cx="806.0" cy="561.7" r="1.9" fill="#00ADA7"/><circle cx="805.7" cy="565.2" r="1.9" fill="#00ADA7"/><circle cx="805.5" cy="568.8" r="1.9" fill="#00ADA7"/><circle cx="805.2" cy="572.3" r="1.9" fill="#00ADA7"/><circle cx="804.9" cy="575.9" r="1.9" fill="#00ADA7"/><circle cx="804.7" cy="579.4" r="1.9" fill="#00ADA7"/><circle cx="800.9" cy="581.7" r="1.9" fill="#00ADA7"/><circle cx="797.1" cy="583.9" r="1.9" fill="#00ADA7"/><circle cx="794.9" cy="581.2" r="1.9" fill="#00ADA7"/><circle cx="792.7" cy="578.6" r="1.9" fill="#00ADA7"/><circle cx="790.4" cy="575.9" r="1.9" fill="#00ADA7"/><circle cx="788.2" cy="573.2" r="1.9" fill="#00ADA7"/><circle cx="784.4" cy="573.2" r="1.9" fill="#00ADA7"/><circle cx="780.5" cy="573.2" r="1.9" fill="#00ADA7"/><circle cx="776.7" cy="573.2" r="1.9" fill="#00ADA7"/><circle cx="773.0" cy="573.5" r="1.9" fill="#00ADA7"/><circle cx="769.3" cy="573.8" r="1.9" fill="#00ADA7"/><circle cx="765.6" cy="574.1" r="1.9" fill="#00ADA7"/><circle cx="761.9" cy="573.1" r="1.9" fill="#00ADA7"/><circle cx="758.1" cy="572.0" r="1.9" fill="#00ADA7"/><circle cx="754.4" cy="571.0" r="1.9" fill="#00ADA7"/><circle cx="752.2" cy="568.8" r="1.9" fill="#00ADA7"/><circle cx="750.0" cy="566.6" r="1.9" fill="#00ADA7"/><circle cx="747.8" cy="564.3" r="1.9" fill="#00ADA7"/>
<polygon points="766.7,559.4 774.4,557.2 776.2,566.1 770.0,571.7" fill="#12968f" stroke="#12968f" stroke-width="2" stroke-linejoin="round"/>
<polygon points="785.6,568.3 803.3,566.1 804.7,579.4 797.1,583.9 790.0,575.0" fill="#12968f" stroke="#12968f" stroke-width="2" stroke-linejoin="round"/>
<polygon points="722.2,610.1 734.9,615.0 744.4,629.4 726.7,627.2" fill="#00ADA7" stroke="#6fc7bf" stroke-width="1" stroke-linejoin="round"/>
<polygon points="740.7,613.2 750.4,610.1 764.4,628.8 745.1,630.6" fill="#00ADA7" stroke="#6fc7bf" stroke-width="1" stroke-linejoin="round"/>
<polygon points="763.3,619.9 783.8,607.2 781.6,619.9 767.8,629.4" fill="#00ADA7" stroke="#6fc7bf" stroke-width="1" stroke-linejoin="round"/>
<polyline points="734.4,611.0 754.4,612.8 766.0,616.3" fill="none" stroke="#3a3436" stroke-width="1.3" stroke-linecap="round" stroke-linejoin="round" />
<polygon points="746.2,617.7 749.1,610.1 752.2,612.3" fill="#7a3fa0" />
<ellipse cx="758.0" cy="605.4" rx="4.6" ry="7.0" fill="#ffffff" transform="rotate(20 758.0 605.4)"/>
<polygon points="747.8,611.0 753.1,599.4 758.4,595.4 762.4,597.7 758.4,607.2 751.3,613.2" fill="#1f3c9c" />
<polygon points="751.8,605.0 757.1,598.3 758.9,602.8 754.4,608.3" fill="#2aa0dc" />
<ellipse cx="759.3" cy="596.8" rx="5.0" ry="3.0" fill="#1f3c9c" transform="rotate(-5 759.3 596.8)"/>
<polygon points="757.1,597.7 763.3,597.2 762.9,599.4 758.0,599.9" fill="#1b1f3a" />
<polygon points="762.2,597.2 772.2,599.9 762.4,599.7" fill="#2b2b2b" /></g>
<g color="#fff" transform="translate(718.9,248.9) scale(0.667)"><use href="#cloud"/></g>
<g color="#fff" transform="translate(713.3,288.9) scale(0.363)"><use href="#cloud"/><use href="#cloudAcc" stroke="#a04bb0"/></g>
<g color="#fff" transform="translate(754.4,291) scale(0.378)"><use href="#cloud"/><use href="#cloudAcc" stroke="#19b5ac"/></g>
<rect x="822" y="74" width="2" height="115.5" fill="#fff"/>
<rect x="821.3" y="222.2" width="2" height="114" fill="#fff"/>
<rect x="822" y="369.6" width="2" height="115" fill="#231F20"/>
<rect x="821" y="517.2" width="2" height="114.5" fill="#231F20"/>
<text x="838.6" y="88.1" font-size="12.4" fill="#fff" class="b" textLength="214.8" lengthAdjust="spacingAndGlyphs">Creating Sustainable Value through</text>
<text x="838.6" y="103.6" font-size="12.4" fill="#fff" class="b" textLength="147.9" lengthAdjust="spacingAndGlyphs">Responsible Governance</text>
<text x="838.6" y="123" font-size="10.4" fill="#e9f7f6"  textLength="282.4" lengthAdjust="spacingAndGlyphs">As a progressive energy and solutions partner, we believe that</text>
<text x="838.6" y="135.4" font-size="10.4" fill="#e9f7f6"  textLength="298.9" lengthAdjust="spacingAndGlyphs">creating sustainable value and practicing responsible governance</text>
<text x="838.6" y="147.5" font-size="10.4" fill="#e9f7f6"  textLength="279.9" lengthAdjust="spacingAndGlyphs">are fundamental to society and organisational resilience. This</text>
<text x="838.6" y="159.8" font-size="10.4" fill="#e9f7f6"  textLength="307.0" lengthAdjust="spacingAndGlyphs">approach helps us to fulfil our Energy Transition Strategy, including</text>
<text x="838.6" y="171.9" font-size="10.4" fill="#e9f7f6"  textLength="284.4" lengthAdjust="spacingAndGlyphs">achieving net zero carbon emissions, thriving with nature, and</text>
<text x="838.6" y="184.3" font-size="10.4" fill="#e9f7f6"  textLength="115.9" lengthAdjust="spacingAndGlyphs">fostering a just transition.</text>
<text x="838" y="249.5" font-size="12.4" fill="#fff" class="b" textLength="113.6" lengthAdjust="spacingAndGlyphs">Delivering Net Zero</text>
<text x="838" y="269.2" font-size="10.4" fill="#e6eaf5"  textLength="285.1" lengthAdjust="spacingAndGlyphs">The evolving energy landscape demands actions, driven by the</text>
<text x="838" y="281.6" font-size="10.4" fill="#e6eaf5"  textLength="298.4" lengthAdjust="spacingAndGlyphs">urgent and expansive climate challenge. To achieve our  Net Zero</text>
<text x="838" y="293.7" font-size="10.4" fill="#e6eaf5"  textLength="310.5" lengthAdjust="spacingAndGlyphs">Carbon Emissions by 2050 Pathway, we will reduce emissions in our</text>
<text x="838" y="306" font-size="10.4" fill="#e6eaf5"  textLength="305.4" lengthAdjust="spacingAndGlyphs">core operations and simultaneously invest in new opportunities for</text>
<text x="838" y="318.1" font-size="10.4" fill="#e6eaf5"  textLength="141.7" lengthAdjust="spacingAndGlyphs">lower-carbon business growth.</text>
<text x="840.5" y="390.3" font-size="12.4" fill="#231F20" class="b" textLength="155.8" lengthAdjust="spacingAndGlyphs">Fostering a Just Transition</text>
<text x="840.5" y="411.1" font-size="10.4" fill="#2e2512"  textLength="304.3" lengthAdjust="spacingAndGlyphs">The energy transition will vary from country to country but it must</text>
<text x="840.5" y="423.2" font-size="10.4" fill="#2e2512"  textLength="297.3" lengthAdjust="spacingAndGlyphs">always be inclusive, aiming  for broader societal progress. We are</text>
<text x="840.5" y="435.6" font-size="10.4" fill="#2e2512"  textLength="311.3" lengthAdjust="spacingAndGlyphs">committed to advancing a just transition that respects human rights</text>
<text x="840.5" y="448" font-size="10.4" fill="#2e2512"  textLength="311.3" lengthAdjust="spacingAndGlyphs">and ensures that stakeholders - especially our employees, suppliers,</text>
<text x="840.5" y="460" font-size="10.4" fill="#2e2512"  textLength="281.8" lengthAdjust="spacingAndGlyphs">and communities - have access to equitable opportunities for</text>
<text x="840.5" y="472.4" font-size="10.4" fill="#2e2512"  textLength="113.1" lengthAdjust="spacingAndGlyphs">socio-economic growth.</text>
<text x="837.4" y="540.9" font-size="12.4" fill="#231F20" class="b" textLength="121.0" lengthAdjust="spacingAndGlyphs">Thriving with Nature</text>
<text x="837.4" y="560.6" font-size="10.4" fill="#262a10"  textLength="308.2" lengthAdjust="spacingAndGlyphs">Nature and biodiversity are essential for sustaining life on Earth, and</text>
<text x="837.4" y="572.4" font-size="10.4" fill="#262a10"  textLength="315.8" lengthAdjust="spacingAndGlyphs">we recognise the impact and dependency of our operations on them.</text>
<text x="837.4" y="585" font-size="10.4" fill="#262a10"  textLength="301.8" lengthAdjust="spacingAndGlyphs">Therefore, we are committed to use natural resources responsibly,</text>
<text x="837.4" y="597.1" font-size="10.4" fill="#262a10"  textLength="295.3" lengthAdjust="spacingAndGlyphs">promote circularity practices and address nature and biodiversity</text>
<text x="837.4" y="609.2" font-size="10.4" fill="#262a10"  textLength="306.8" lengthAdjust="spacingAndGlyphs">loss. We will engage in practices that restore, protect, and conserve</text>
<text x="837.4" y="621.3" font-size="10.4" fill="#262a10"  textLength="285.7" lengthAdjust="spacingAndGlyphs">ecosystems in Malaysia and in the countries where we operate.</text>
</g>
<g font-size="13.7" fill="#2a2a2a" stroke="#2a2a2a" stroke-width="0.25">
<text x="83.6" y="666.8" textLength="50.8" lengthAdjust="spacingAndGlyphs">Source:</text>
<text x="138.6" y="666.8" textLength="72.1" lengthAdjust="spacingAndGlyphs">PETRONAS</text>
<text x="215.2" y="666.8" textLength="89.6" lengthAdjust="spacingAndGlyphs">Sustainability</text>
<text x="309.2" y="666.8" textLength="68.0" lengthAdjust="spacingAndGlyphs">Approach;</text>
<text x="381.9" y="666.8" textLength="37.6" lengthAdjust="spacingAndGlyphs">which</text>
<text x="424.3" y="666.8" textLength="14.8" lengthAdjust="spacingAndGlyphs">all</text>
<text x="444" y="666.8" textLength="31.0" lengthAdjust="spacingAndGlyphs">units</text>
<text x="480.5" y="666.8" textLength="19.4" lengthAdjust="spacingAndGlyphs">are</text>
<text x="504.7" y="666.8" textLength="76.8" lengthAdjust="spacingAndGlyphs">encouraged</text>
<text x="586.2" y="666.8" textLength="12.9" lengthAdjust="spacingAndGlyphs">to</text>
<text x="603.3" y="666.8" textLength="37.5" lengthAdjust="spacingAndGlyphs">adopt</text>
</g>
</svg></body></html>
